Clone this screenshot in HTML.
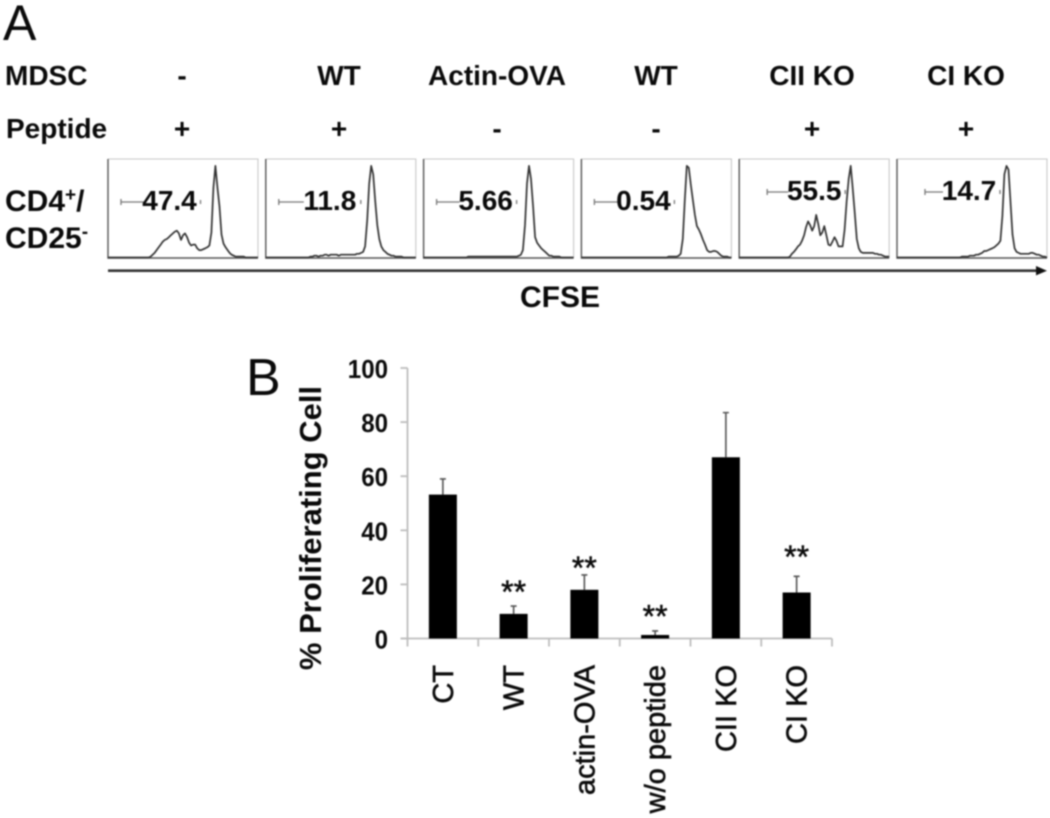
<!DOCTYPE html>
<html lang="en">
<head>
<meta charset="utf-8">
<title>MDSC proliferation figure</title>
<style>
html,body{margin:0;padding:0;background:#fff;width:1050px;height:818px;overflow:hidden}
svg{display:block;filter:blur(0.7px)}
text{font-family:"Liberation Sans",sans-serif;fill:#0a0a0a}
.b{font-weight:bold}
</style>
</head>
<body>
<svg id="fig" width="1050" height="818" viewBox="0 0 1050 818" xmlns="http://www.w3.org/2000/svg">
  <g id="panel-a">
    <text x="3" y="40" font-size="50">A</text>
    <text class="b" x="5" y="85" font-size="28">MDSC</text>
    <text class="b" x="6" y="138" font-size="28">Peptide</text>
    <text class="b" x="5" y="211" font-size="30">CD4<tspan font-size="19" dy="-10">+</tspan><tspan dy="10">/</tspan></text>
    <text class="b" x="5" y="248" font-size="30">CD25<tspan font-size="19" dy="-10">-</tspan></text>
    <text class="b" x="560" y="307" font-size="30" text-anchor="middle">CFSE</text>
    <line x1="108" y1="270.7" x2="1036" y2="270.7" stroke="#333" stroke-width="2.6"/>
    <polygon points="1047,270.7 1036,266 1036,275.4" fill="#111"/>
  </g>
  <g id="panel-b">
    <text x="246" y="395" font-size="52">B</text>
    <text class="b" x="0" y="0" font-size="31" text-anchor="middle" transform="translate(321 528) rotate(-90)">% Proliferating Cell</text>
  </g>
</svg>
<script>
// ---- Panel A data ----
const mdscRow = ['-', 'WT', 'Actin-OVA', 'WT', 'CII KO', 'CI KO'];
const peptideRow = ['+', '+', '-', '-', '+', '+'];
const gatePercent = ['47.4', '11.8', '5.66', '0.54', '55.5', '14.7'];
// Histogram counts per CFSE channel (75 channels, 0-100 scale)
const hist1 = [0,0,0,0,0,0,0,0,0,0,0,0,0,0,0,0,0,0,0,0,0,1,3,5,8,11,14,17,19,20,22,24,26,28,29,26,19,24,26,22,16,13,14,14,10,8,8,9,10,11,13,27,75,99,75,55,25,15,11,8,5,3,2,1,1,1,1,1,0,0,0,0,0,0,0];
const hist2 = [0,0,0,0,0,0,0,0,0,0,0,0,0,0,0,0,0,0,0,0,0,0,1,1,2,2,1,2,2,3,3,2,3,3,3,3,2,3,3,3,3,3,3,3,3,4,4,5,6,12,40,80,99,90,60,35,20,12,8,6,4,3,2,2,1,1,1,1,0,0,0,0,0,0,0];
const hist3 = [0,0,0,0,0,0,0,0,0,0,0,0,0,0,0,0,0,0,0,0,0,0,1,1,1,1,1,1,1,1,1,1,1,1,1,1,1,1,1,1,1,1,1,1,1,1,1,2,3,8,35,80,99,85,55,22,16,13,10,8,6,4,2,2,1,1,1,1,0,0,0,0,0,0,0];
const hist4 = [0,0,0,0,0,0,0,0,0,0,0,0,0,0,0,0,0,0,0,0,0,0,0,0,0,0,0,0,0,0,0,0,0,0,0,0,0,0,0,0,0,0,0,1,1,1,1,1,2,4,20,62,99,97,78,62,46,34,30,25,19,14,8,6,6,7,7,6,4,2,1,1,1,0,0];
const hist5 = [0,0,0,0,0,0,0,0,0,0,0,0,0,0,0,0,0,0,0,0,0,0,0,0,0,1,4,6,9,12,14,18,24,33,39,35,29,34,46,36,24,27,34,24,14,13,17,22,18,12,12,12,30,60,85,99,75,49,20,10,6,5,5,5,5,5,5,4,4,3,3,2,1,1,1];
const hist6 = [0,0,0,0,0,0,0,0,0,0,0,0,0,0,0,0,0,0,0,0,0,0,0,0,0,0,0,0,0,0,0,0,1,1,1,1,2,2,2,3,3,4,5,7,7,8,9,10,11,13,15,18,45,90,99,95,60,25,10,6,5,4,4,4,4,4,5,5,4,3,3,2,1,1,0];
const histograms = [hist1, hist2, hist3, hist4, hist5, hist6];

// ---- Panel B data ----
const categories = ['CT', 'WT', 'actin-OVA', 'w/o peptide', 'CII KO', 'CI KO'];
const barValues = [53.2, 9.1, 18, 1.3, 67, 17];
const errorTops = [59, 12, 23.5, 2.8, 83.5, 23];
const yTicks = [0, 20, 40, 60, 80, 100];
const significance = ['', '**', '**', '**', '', '**'];
const significanceLevels = [0, 19, 28, 10, 0, 32];

const svg = document.getElementById('fig');
const panelA = document.getElementById('panel-a');
const panelB = document.getElementById('panel-b');
const NS = 'http://www.w3.org/2000/svg';

function mk(tag, attrs, parent, content) {
  const el = document.createElementNS(NS, tag);
  for (const k in attrs) el.setAttribute(k, attrs[k]);
  if (content !== undefined) el.textContent = content;
  parent.appendChild(el);
  return el;
}

// Panel A layout
const panelLeft = i => 108 + i * 157.8;
const panelWidth = 150;
const panelTop = 159;
const panelBottom = 258;
const channelX = (i, ch) => panelLeft(i) + ch * (panelWidth / 74);
const countY = c => panelBottom - 0.5 - c * 0.925;
const columnCenters = [182, 339, 497, 656, 812, 966];
const gateLabelBase = i => (i >= 4 ? 200 : 210);
const gateLabelOffset = [61.5, 64, 62, 62, 75, 72];

mdscRow.forEach((label, i) => {
  const t = mk('text', {class: 'b', x: columnCenters[i], y: 85, 'font-size': 28, 'text-anchor': 'middle'}, panelA, label);
  
  
});
peptideRow.forEach((label, i) => {
  const t = mk('text', {class: 'b', x: columnCenters[i], y: 138, 'font-size': 28, 'text-anchor': 'middle'}, panelA, label);
  
  
});

histograms.forEach((counts, i) => {
  const L = panelLeft(i), R = L + panelWidth;
  const g = mk('g', {}, panelA);
  
  

  const frame = mk('path', {d: `M${L} ${panelTop}H${R}V${panelBottom}`, fill: 'none', stroke: '#c8c8c8', 'stroke-width': 1.1}, g);
  
  
  const axes = mk('path', {d: `M${L} ${panelTop}V${panelBottom}H${R}`, fill: 'none', stroke: '#555', 'stroke-width': 1.4}, g);
  
  

  const d = counts.map((c, ch) => (ch ? 'L' : 'M') + channelX(i, ch).toFixed(1) + ' ' + countY(c).toFixed(1)).join('');
  const line = mk('path', {d: d, fill: 'none', stroke: '#333', 'stroke-width': 1.7, 'stroke-linejoin': 'round'}, g);
  
  

  const base = gateLabelBase(i), gy = base - 8;
  const tx = L + gateLabelOffset[i];
  const gateStart = L + (i >= 4 ? 28 : 13);
  const gate = mk('path', {d: `M${gateStart} ${gy}H${tx - 26}M${gateStart} ${gy - 3}V${gy + 3}M${tx + 31} ${gy - 2}V${gy + 2}`, fill: 'none', stroke: '#777', 'stroke-width': 1.3}, g);
  
  

  const t = mk('text', {class: 'b', x: tx, y: base, 'font-size': 28, 'text-anchor': 'middle'}, g, gatePercent[i]);
  
  
});

// Panel B axes
const axisLeft = 407.5, axisRight = 832, y0 = 638.5, y100 = 368;
const yScale = v => y0 - (v / 100) * (y0 - y100);
const catStep = (axisRight - axisLeft) / categories.length;
const catX = i => axisLeft + catStep * (i + 0.5);
const barWidth = 28;

const yAxis = mk('line', {x1: axisLeft, x2: axisLeft, y1: y100, y2: y0, stroke: '#bdbdbd', 'stroke-width': 1.8}, panelB);


const xAxis = mk('line', {x1: axisLeft - 7, x2: axisRight, y1: y0, y2: y0, stroke: '#bdbdbd', 'stroke-width': 1.8}, panelB);



yTicks.forEach(v => {
  const tick = mk('line', {x1: axisLeft - 7, x2: axisLeft, y1: yScale(v), y2: yScale(v), stroke: '#bdbdbd', 'stroke-width': 1.8}, panelB);
  
  
  const label = String(v);
  const t = mk('text', {class: 'b', x: 388, y: yScale(v) + 10, 'font-size': 26, 'text-anchor': 'end', textLength: label.length * 13.4, lengthAdjust: 'spacingAndGlyphs'}, panelB, label);
  
  
});

for (let i = 0; i <= categories.length; i++) {
  const x = axisLeft + catStep * i;
  const tick = mk('line', {x1: x, x2: x, y1: y0, y2: y0 + 8, stroke: '#bdbdbd', 'stroke-width': 1.8}, panelB);
  
  
}

categories.forEach((label, i) => {
  const cx = catX(i);
  const err = mk('path', {d: `M${cx} ${yScale(barValues[i])}V${yScale(errorTops[i])}M${cx - 3} ${yScale(errorTops[i])}H${cx + 3}`, fill: 'none', stroke: '#555', 'stroke-width': 1.6}, panelB);
  
  

  const bar = mk('rect', {x: cx - barWidth / 2, y: yScale(barValues[i]), width: barWidth, height: y0 - yScale(barValues[i]), fill: '#000'}, panelB);
  
  

  const t = mk('text', {x: 0, y: 0, 'font-size': 29, 'text-anchor': 'end', stroke: '#111', 'stroke-width': 0.6, transform: `translate(${cx + 10} 665) rotate(-90)`}, panelB, label);
  
  

  if (significance[i]) {
    const s = mk('text', {x: cx, y: yScale(significanceLevels[i]) + 16, 'font-size': 32, 'text-anchor': 'middle', stroke: '#111', 'stroke-width': 0.5}, panelB, significance[i]);
    
    
  }
});
</script>
</body>
</html>
